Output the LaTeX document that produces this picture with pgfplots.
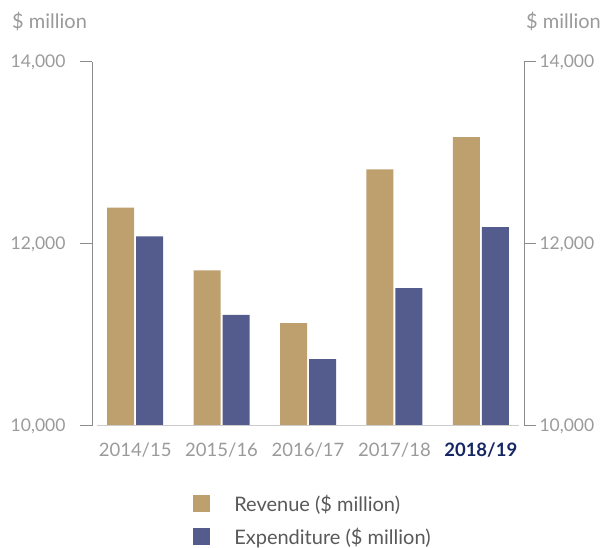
\documentclass[border=0pt]{standalone}
\usepackage{pgfplots}
\pgfplotsset{compat=1.18}
\usepackage{fontspec}
\setmainfont{Lato}

\definecolor{rev}{HTML}{BE9F6E}
\definecolor{expn}{HTML}{535C8C}
\definecolor{axgray}{HTML}{8C8C8C}
\definecolor{txtgray}{HTML}{9A9A9A}
\definecolor{navy}{HTML}{152663}

\pgfplotstableread{
x rev exp
0 12400 12085
1 11710 11220
2 11130 10735
3 12820 11515
4 13175 12185
}\data

\begin{document}
\begin{tikzpicture}[x=1pt,y=1pt]
\useasboundingbox (0,0) rectangle (605,548);
\pgfplotsset{
  common/.style={
    at={(92pt,122pt)}, anchor=south west,
    scale only axis, width=432pt, height=364pt,
    xmin=-0.5, xmax=4.5, ymin=10000, ymax=14000,
    ytick={10000,12000,14000},
    scaled y ticks=false,
    /pgf/number format/assume math mode=true,
    /pgf/number format/1000 sep={,},
    tick align=outside, major tick length=12pt,
    y axis line style={axgray, line width=1pt},
    ytick style={axgray, line width=1pt},
    yticklabel style={txtgray, font=\fontsize{17.5}{17.5}\selectfont},
  }
}
\begin{axis}[
  common,
  axis y line*=left, axis x line*=bottom,
  yticklabel style={xshift=-11pt},
  x axis line style={draw=none},
  xtick={0,...,4}, xtick style={draw=none},
  xticklabels={2014/15, 2015/16, 2016/17, 2017/18, \textcolor{navy}{\textbf{2018/19}}},
  xticklabel style={txtgray, font=\fontsize{18.5}{18.5}\selectfont, yshift=-1pt},
  ybar=2pt, bar width=27pt,
  legend style={at={(0.227,-0.178)}, anchor=north west, draw=none, fill=none,
    font=\fontsize{20}{20}\selectfont, text=black!65, row sep=11pt,
    cells={anchor=west}},
  legend image code/.code={\fill[#1] (0pt,-8pt) rectangle (17pt,9pt);},
  legend cell align=left,
]
\addplot[fill=rev, draw=none] table[x=x, y=rev] {\data};
\addplot[fill=expn, draw=none] table[x=x, y=exp] {\data};
\legend{\hspace{22pt}Revenue (\$ million), \hspace{22pt}Expenditure (\$ million)}
\draw[black!20, line width=2pt] (axis cs:-0.44,10000) -- (axis cs:4.44,10000);
\end{axis}
\begin{axis}[
  common,
  axis y line*=right, axis x line=none,
]
\end{axis}
\node[anchor=west, inner sep=0pt, txtgray, font=\fontsize{20}{20}\selectfont] at (12,526) {\$ million};
\node[anchor=east, inner sep=0pt, txtgray, font=\fontsize{20}{20}\selectfont] at (601,526) {\$ million};
\end{tikzpicture}
\end{document}
